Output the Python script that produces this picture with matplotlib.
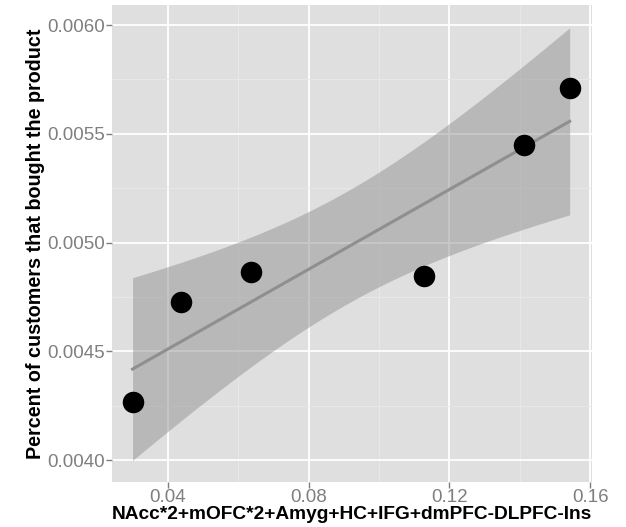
import numpy as np
import matplotlib
matplotlib.use("Agg")
import matplotlib.pyplot as plt
from matplotlib.ticker import MultipleLocator, FixedLocator

# values
x_vals = [0.0300, 0.0438, 0.0637, 0.1128, 0.1411, 0.1542]
y_vals = [0.004265, 0.004727, 0.004865, 0.004846, 0.005449, 0.005710]
x_ticks = [0.04, 0.08, 0.12, 0.16]
y_ticks = [0.0040, 0.0045, 0.0050, 0.0055, 0.0060]

x = np.array(x_vals)
y = np.array(y_vals)

# linear fit with 95% confidence band (as geom_smooth(method="lm"))
n = len(x)
slope, intercept = np.polyfit(x, y, 1)
resid = y - (slope * x + intercept)
s = np.sqrt(np.sum(resid ** 2) / (n - 2))
sxx = np.sum((x - x.mean()) ** 2)
t_crit = 2.776  # t(0.975, df=4)
xf = np.linspace(x.min(), x.max(), 100)
yf = slope * xf + intercept
se = s * np.sqrt(1 / n + (xf - x.mean()) ** 2 / sxx)

plt.rcParams["font.family"] = ["Liberation Sans", "DejaVu Sans"]

fig = plt.figure(figsize=(6.26, 5.27), dpi=100)
ax = fig.add_axes([0.179, 0.0854, 0.767, 0.9051])
ax.set_facecolor("#dfdfdf")

ax.fill_between(xf, yf - t_crit * se, yf + t_crit * se, color="#939393", alpha=0.5,
                linewidth=0, zorder=2)
ax.plot(xf, yf, color="#8f8f8f", linewidth=2.2, zorder=3)
ax.scatter(x, y, s=240, color="black", zorder=4, linewidths=0)

ax.set_xlim(0.02417, 0.1606)
ax.set_ylim(0.003899, 0.006092)
ax.xaxis.set_major_locator(FixedLocator(x_ticks))
ax.yaxis.set_major_locator(FixedLocator(y_ticks))
ax.xaxis.set_minor_locator(MultipleLocator(0.02))
ax.yaxis.set_minor_locator(MultipleLocator(0.00025))
ax.set_xticklabels([f"{v:.2f}" for v in x_ticks])
ax.set_yticklabels([f"{v:.4f}" for v in y_ticks])

ax.grid(which="major", color="white", linewidth=1.3, zorder=0)
ax.grid(which="minor", color="#e9e9e9", linewidth=0.6, zorder=0)
ax.set_axisbelow(True)
for sp in ax.spines.values():
    sp.set_visible(False)

ax.tick_params(which="major", length=4, width=1, color="#7f7f7f",
               labelcolor="#7f7f7f", labelsize=13.5, pad=1)
ax.tick_params(which="minor", length=0)

ax.set_xlabel("NAcc*2+mOFC*2+Amyg+HC+IFG+dmPFC-DLPFC-Ins", fontsize=13.8,
              fontweight="bold", labelpad=0)
ax.set_ylabel("Percent of customers that bought the product", fontsize=14.2,
              fontweight="bold", labelpad=2)

fig.savefig("out.png", dpi=100)
